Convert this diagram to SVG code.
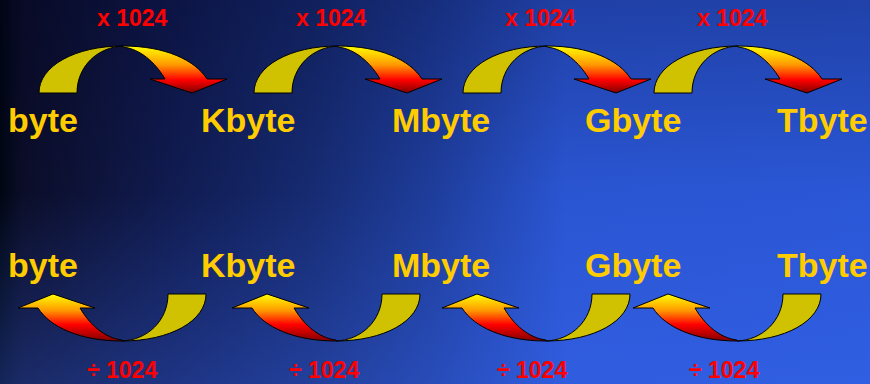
<svg xmlns="http://www.w3.org/2000/svg" xmlns:xlink="http://www.w3.org/1999/xlink" width="870" height="384" viewBox="0 0 870 384">
<style>
.unit{font-family:"Liberation Sans",Arial,sans-serif;font-weight:bold;font-size:34px;fill:#FFCC00}
.op{font-family:"Liberation Sans",Arial,sans-serif;font-weight:bold;font-size:23px;fill:#FF0000}
.band{fill:#D0C200;stroke:#000;stroke-width:1}
.head{stroke:#000;stroke-width:1}
</style>
<defs>
<linearGradient id="bg" x1="0" y1="0" x2="1" y2="0">
<stop offset="0" stop-color="#000612"/>
<stop offset="0.025" stop-color="#0b0d28"/>
<stop offset="0.2" stop-color="#101b50"/>
<stop offset="0.36" stop-color="#162b72"/>
<stop offset="0.5" stop-color="#1e3d9c"/>
<stop offset="0.65" stop-color="#2a55d2"/>
<stop offset="1" stop-color="#2a57d6"/>
</linearGradient>
<linearGradient id="shade" x1="0" y1="0" x2="0" y2="1">
<stop offset="0" stop-color="#000020" stop-opacity="0.25"/>
<stop offset="0.5" stop-color="#000020" stop-opacity="0"/>
<stop offset="0.5" stop-color="#4070ff" stop-opacity="0"/>
<stop offset="1" stop-color="#4070ff" stop-opacity="0.3"/>
</linearGradient>
<linearGradient id="gT" x1="0" y1="0" x2="0" y2="1">
<stop offset="0" stop-color="#FFFF00"/>
<stop offset="0.4" stop-color="#FF9900"/>
<stop offset="0.72" stop-color="#FF0000"/>
<stop offset="1" stop-color="#800000"/>
</linearGradient>
<linearGradient id="gB" x1="0" y1="0" x2="0" y2="1">
<stop offset="0" stop-color="#800000"/>
<stop offset="0.35" stop-color="#FF0000"/>
<stop offset="0.65" stop-color="#FF9900"/>
<stop offset="1" stop-color="#FFFF00"/>
</linearGradient>
<g id="arrowTop">
<path class="band" d="M39,93 C39,66 75,46 123,46 C98,47 77,66 77,93 Z"/>
<path class="head" fill="url(#gT)" d="M123,46 C165,46 195,60 207,79 L227,79 L192,93 L150,79 L165,79 C155,62 140,49 123,47 Z"/>
</g>
<g id="arrowBot">
<path class="band" d="M39,93 C39,66 75,46 123,46 C98,47 77,66 77,93 Z"/>
<path class="head" fill="url(#gB)" d="M123,46 C165,46 195,60 207,79 L227,79 L192,93 L150,79 L165,79 C155,62 140,49 123,47 Z"/>
</g>
</defs>
<rect x="0" y="0" width="870" height="384" fill="url(#bg)"/>
<rect x="0" y="0" width="870" height="384" fill="url(#shade)"/>

<g id="connectors">
<use xlink:href="#arrowTop" href="#arrowTop"/>
<use xlink:href="#arrowTop" href="#arrowTop" transform="translate(215,0)"/>
<use xlink:href="#arrowTop" href="#arrowTop" transform="translate(424,0)"/>
<use xlink:href="#arrowTop" href="#arrowTop" transform="translate(615,0)"/>
<use xlink:href="#arrowBot" href="#arrowBot" transform="translate(245,387) rotate(180)"/>
<use xlink:href="#arrowBot" href="#arrowBot" transform="translate(459,387) rotate(180)"/>
<use xlink:href="#arrowBot" href="#arrowBot" transform="translate(669,387) rotate(180)"/>
<use xlink:href="#arrowBot" href="#arrowBot" transform="translate(860,387) rotate(180)"/>
<text class="op" x="97" y="26">x 1024</text>
<text class="op" x="296" y="26">x 1024</text>
<text class="op" x="505" y="26">x 1024</text>
<text class="op" x="697" y="26">x 1024</text>
<text class="op" x="87" y="378">÷ 1024</text>
<text class="op" x="289" y="378">÷ 1024</text>
<text class="op" x="497" y="378">÷ 1024</text>
<text class="op" x="689" y="378">÷ 1024</text>
</g>

<g id="top-byte"><text class="unit" x="8" y="132">byte</text></g>
<g id="top-kbyte"><text class="unit" x="201" y="132">Kbyte</text></g>
<g id="top-mbyte"><text class="unit" x="392" y="132">Mbyte</text></g>
<g id="top-gbyte"><text class="unit" x="585" y="132">Gbyte</text></g>
<g id="top-tbyte"><text class="unit" x="777" y="132">Tbyte</text></g>
<g id="bot-byte"><text class="unit" x="8" y="277">byte</text></g>
<g id="bot-kbyte"><text class="unit" x="201" y="277">Kbyte</text></g>
<g id="bot-mbyte"><text class="unit" x="392" y="277">Mbyte</text></g>
<g id="bot-gbyte"><text class="unit" x="585" y="277">Gbyte</text></g>
<g id="bot-tbyte"><text class="unit" x="777" y="277">Tbyte</text></g>
</svg>
